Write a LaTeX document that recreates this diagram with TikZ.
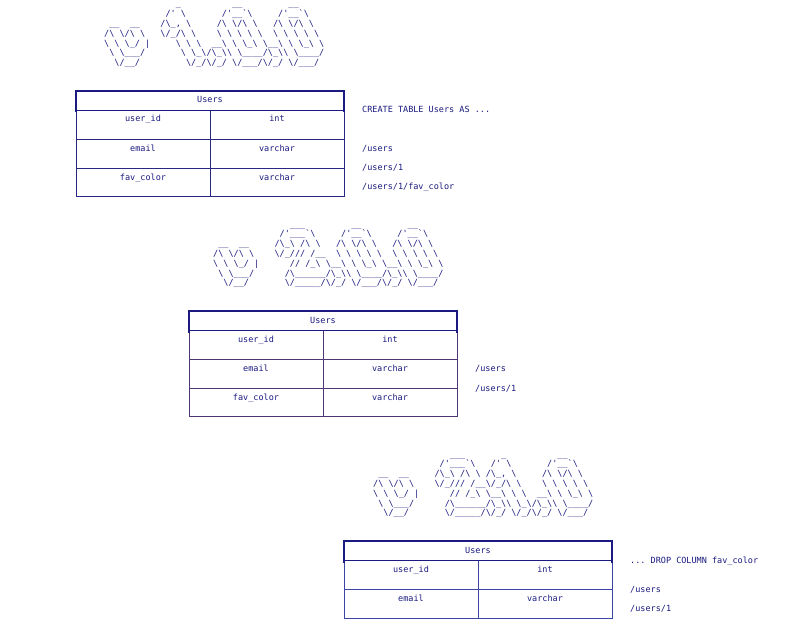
\documentclass[tikz,border=0pt]{standalone}
\usepackage{fontspec}
\setmonofont{DejaVu Sans Mono}
\definecolor{ink}{RGB}{26,26,128}
\definecolor{ruleA}{RGB}{40,40,130}
\definecolor{ruleB}{RGB}{80,55,115}
\definecolor{ruleC}{RGB}{60,70,165}
\frenchspacing
\begingroup
\catcode`\!=0
\catcode`\_=12
\catcode`\ =13
!catcode`!\=12
!gdef {!space}
!gdef!artAa{!null              _          __         __}
!gdef!artAb{!null            /' \       /'__`\     /'__`\}
!gdef!artAc{!null __  __    /\_, \     /\ \/\ \   /\ \/\ \}
!gdef!artAd{!null/\ \/\ \   \/_/\ \    \ \ \ \ \  \ \ \ \ \}
!gdef!artAe{!null\ \ \_/ |     \ \ \  __\ \ \_\ \__\ \ \_\ \}
!gdef!artAf{!null \ \___/       \ \_\/\_\\ \____/\_\\ \____/}
!gdef!artAg{!null  \/__/         \/_/\/_/ \/___/\/_/ \/___/}
!gdef!artBa{!null               ___         __         __}
!gdef!artBb{!null             /'___`\     /'__`\     /'__`\}
!gdef!artBc{!null __  __     /\_\ /\ \   /\ \/\ \   /\ \/\ \}
!gdef!artBd{!null/\ \/\ \    \/_/// /__  \ \ \ \ \  \ \ \ \ \}
!gdef!artBe{!null\ \ \_/ |      // /_\ \__\ \ \_\ \__\ \ \_\ \}
!gdef!artBf{!null \ \___/      /\______/\_\\ \____/\_\\ \____/}
!gdef!artBg{!null  \/__/       \/_____/\/_/ \/___/\/_/ \/___/}
!gdef!artCa{!null               ___       _          __}
!gdef!artCb{!null             /'___`\   /' \       /'__`\}
!gdef!artCc{!null __  __     /\_\ /\ \ /\_, \     /\ \/\ \}
!gdef!artCd{!null/\ \/\ \    \/_/// /__\/_/\ \    \ \ \ \ \}
!gdef!artCe{!null\ \ \_/ |      // /_\ \__\ \ \  __\ \ \_\ \}
!gdef!artCf{!null \ \___/      /\______/\_\\ \_\/\_\\ \____/}
!gdef!artCg{!null  \/__/       \/_____/\/_/ \/_/\/_/ \/___/}
!endgroup
\begin{document}
\begin{tikzpicture}[x=1pt,y=-1pt,
  mono/.style={font=\ttfamily\fontsize{8.5}{10}\selectfont, text=ink, inner sep=0pt},
  art/.style={mono, anchor=base west},
  cell/.style={mono, anchor=base},
  side/.style={mono, anchor=base west},
  hdr/.style={draw=ink, line width=1.3pt},
  gridA/.style={draw=ruleA, line width=0.7pt},
  gridB/.style={draw=ruleB, line width=0.7pt},
  gridC/.style={draw=ruleC, line width=0.7pt}]
\useasboundingbox[fill=white] (0,0) rectangle (800,623);

% ---------- version 1.0.0 ----------
\node[art] (a1r0) at (104,7.0) {\artAa};
\node[art] (a1r1) at (104,16.8) {\artAb};
\node[art] (a1r2) at (104,26.6) {\artAc};
\node[art] (a1r3) at (104,36.4) {\artAd};
\node[art] (a1r4) at (104,46.2) {\artAe};
\node[art] (a1r5) at (104,56.0) {\artAf};
\node[art] (a1r6) at (104,65.8) {\artAg};

\begin{scope}[shift={(76,91)}]
  \draw[gridA] (0,19.5) -- (0,105) -- (268,105) -- (268,19.5);
  \draw[gridA] (0,48) -- (268,48);
  \draw[gridA] (0,77) -- (268,77);
  \draw[gridA] (134,19.5) -- (134,105);
  \draw[hdr] (0,0) rectangle (268,19.5);
  \draw[hdr] (0,19.5) -- (0,21.5) (268,19.5) -- (268,21.5);
  \node[cell] (t1h) at (134,12) {Users};
  \node[cell] (t1a) at (67,31) {user\_id};
  \node[cell] (t1b) at (201,31) {int};
  \node[cell] (t1c) at (67,60) {email};
  \node[cell] (t1d) at (201,60) {varchar};
  \node[cell] (t1e) at (67,89) {fav\_color};
  \node[cell] (t1f) at (201,89) {varchar};
  \node[side] (t1s0) at (286,22) {CREATE TABLE Users AS ...};
  \node[side] (t1s1) at (286,60) {/users};
  \node[side] (t1s2) at (286,79) {/users/1};
  \node[side] (t1s3) at (286,98) {/users/1/fav\_color};
\end{scope}

% ---------- version 2.0.0 ----------
\node[art] (a2r0) at (213,227.0) {\artBa};
\node[art] (a2r1) at (213,236.8) {\artBb};
\node[art] (a2r2) at (213,246.6) {\artBc};
\node[art] (a2r3) at (213,256.4) {\artBd};
\node[art] (a2r4) at (213,266.2) {\artBe};
\node[art] (a2r5) at (213,276.0) {\artBf};
\node[art] (a2r6) at (213,285.8) {\artBg};

\begin{scope}[shift={(189,311)}]
  \draw[gridB] (0,19.5) -- (0,105) -- (268,105) -- (268,19.5);
  \draw[gridB] (0,48) -- (268,48);
  \draw[gridB] (0,77) -- (268,77);
  \draw[gridB] (134,19.5) -- (134,105);
  \draw[hdr] (0,0) rectangle (268,19.5);
  \draw[hdr] (0,19.5) -- (0,21.5) (268,19.5) -- (268,21.5);
  \node[cell] (t2h) at (134,12) {Users};
  \node[cell] (t2a) at (67,31) {user\_id};
  \node[cell] (t2b) at (201,31) {int};
  \node[cell] (t2c) at (67,60) {email};
  \node[cell] (t2d) at (201,60) {varchar};
  \node[cell] (t2e) at (67,89) {fav\_color};
  \node[cell] (t2f) at (201,89) {varchar};
  \node[side] (t2s1) at (286,60) {/users};
  \node[side] (t2s2) at (286,80) {/users/1};
\end{scope}

% ---------- version 2.1.0 ----------
\node[art] (a3r0) at (373,457.0) {\artCa};
\node[art] (a3r1) at (373,466.8) {\artCb};
\node[art] (a3r2) at (373,476.6) {\artCc};
\node[art] (a3r3) at (373,486.4) {\artCd};
\node[art] (a3r4) at (373,496.2) {\artCe};
\node[art] (a3r5) at (373,506.0) {\artCf};
\node[art] (a3r6) at (373,515.8) {\artCg};

\begin{scope}[shift={(344,541)}]
  \draw[gridC] (0,19.5) -- (0,77) -- (268,77) -- (268,19.5);
  \draw[gridC] (0,48) -- (268,48);
  \draw[gridC] (134,19.5) -- (134,77);
  \draw[hdr] (0,0) rectangle (268,19.5);
  \draw[hdr] (0,19.5) -- (0,21.5) (268,19.5) -- (268,21.5);
  \node[cell] (t3h) at (134,12) {Users};
  \node[cell] (t3a) at (67,31) {user\_id};
  \node[cell] (t3b) at (201,31) {int};
  \node[cell] (t3c) at (67,60) {email};
  \node[cell] (t3d) at (201,60) {varchar};
  \node[side] (t3s0) at (286,22) {... DROP COLUMN fav\_color};
  \node[side] (t3s1) at (286,51) {/users};
  \node[side] (t3s2) at (286,70) {/users/1};
\end{scope}
\end{tikzpicture}
\end{document}
